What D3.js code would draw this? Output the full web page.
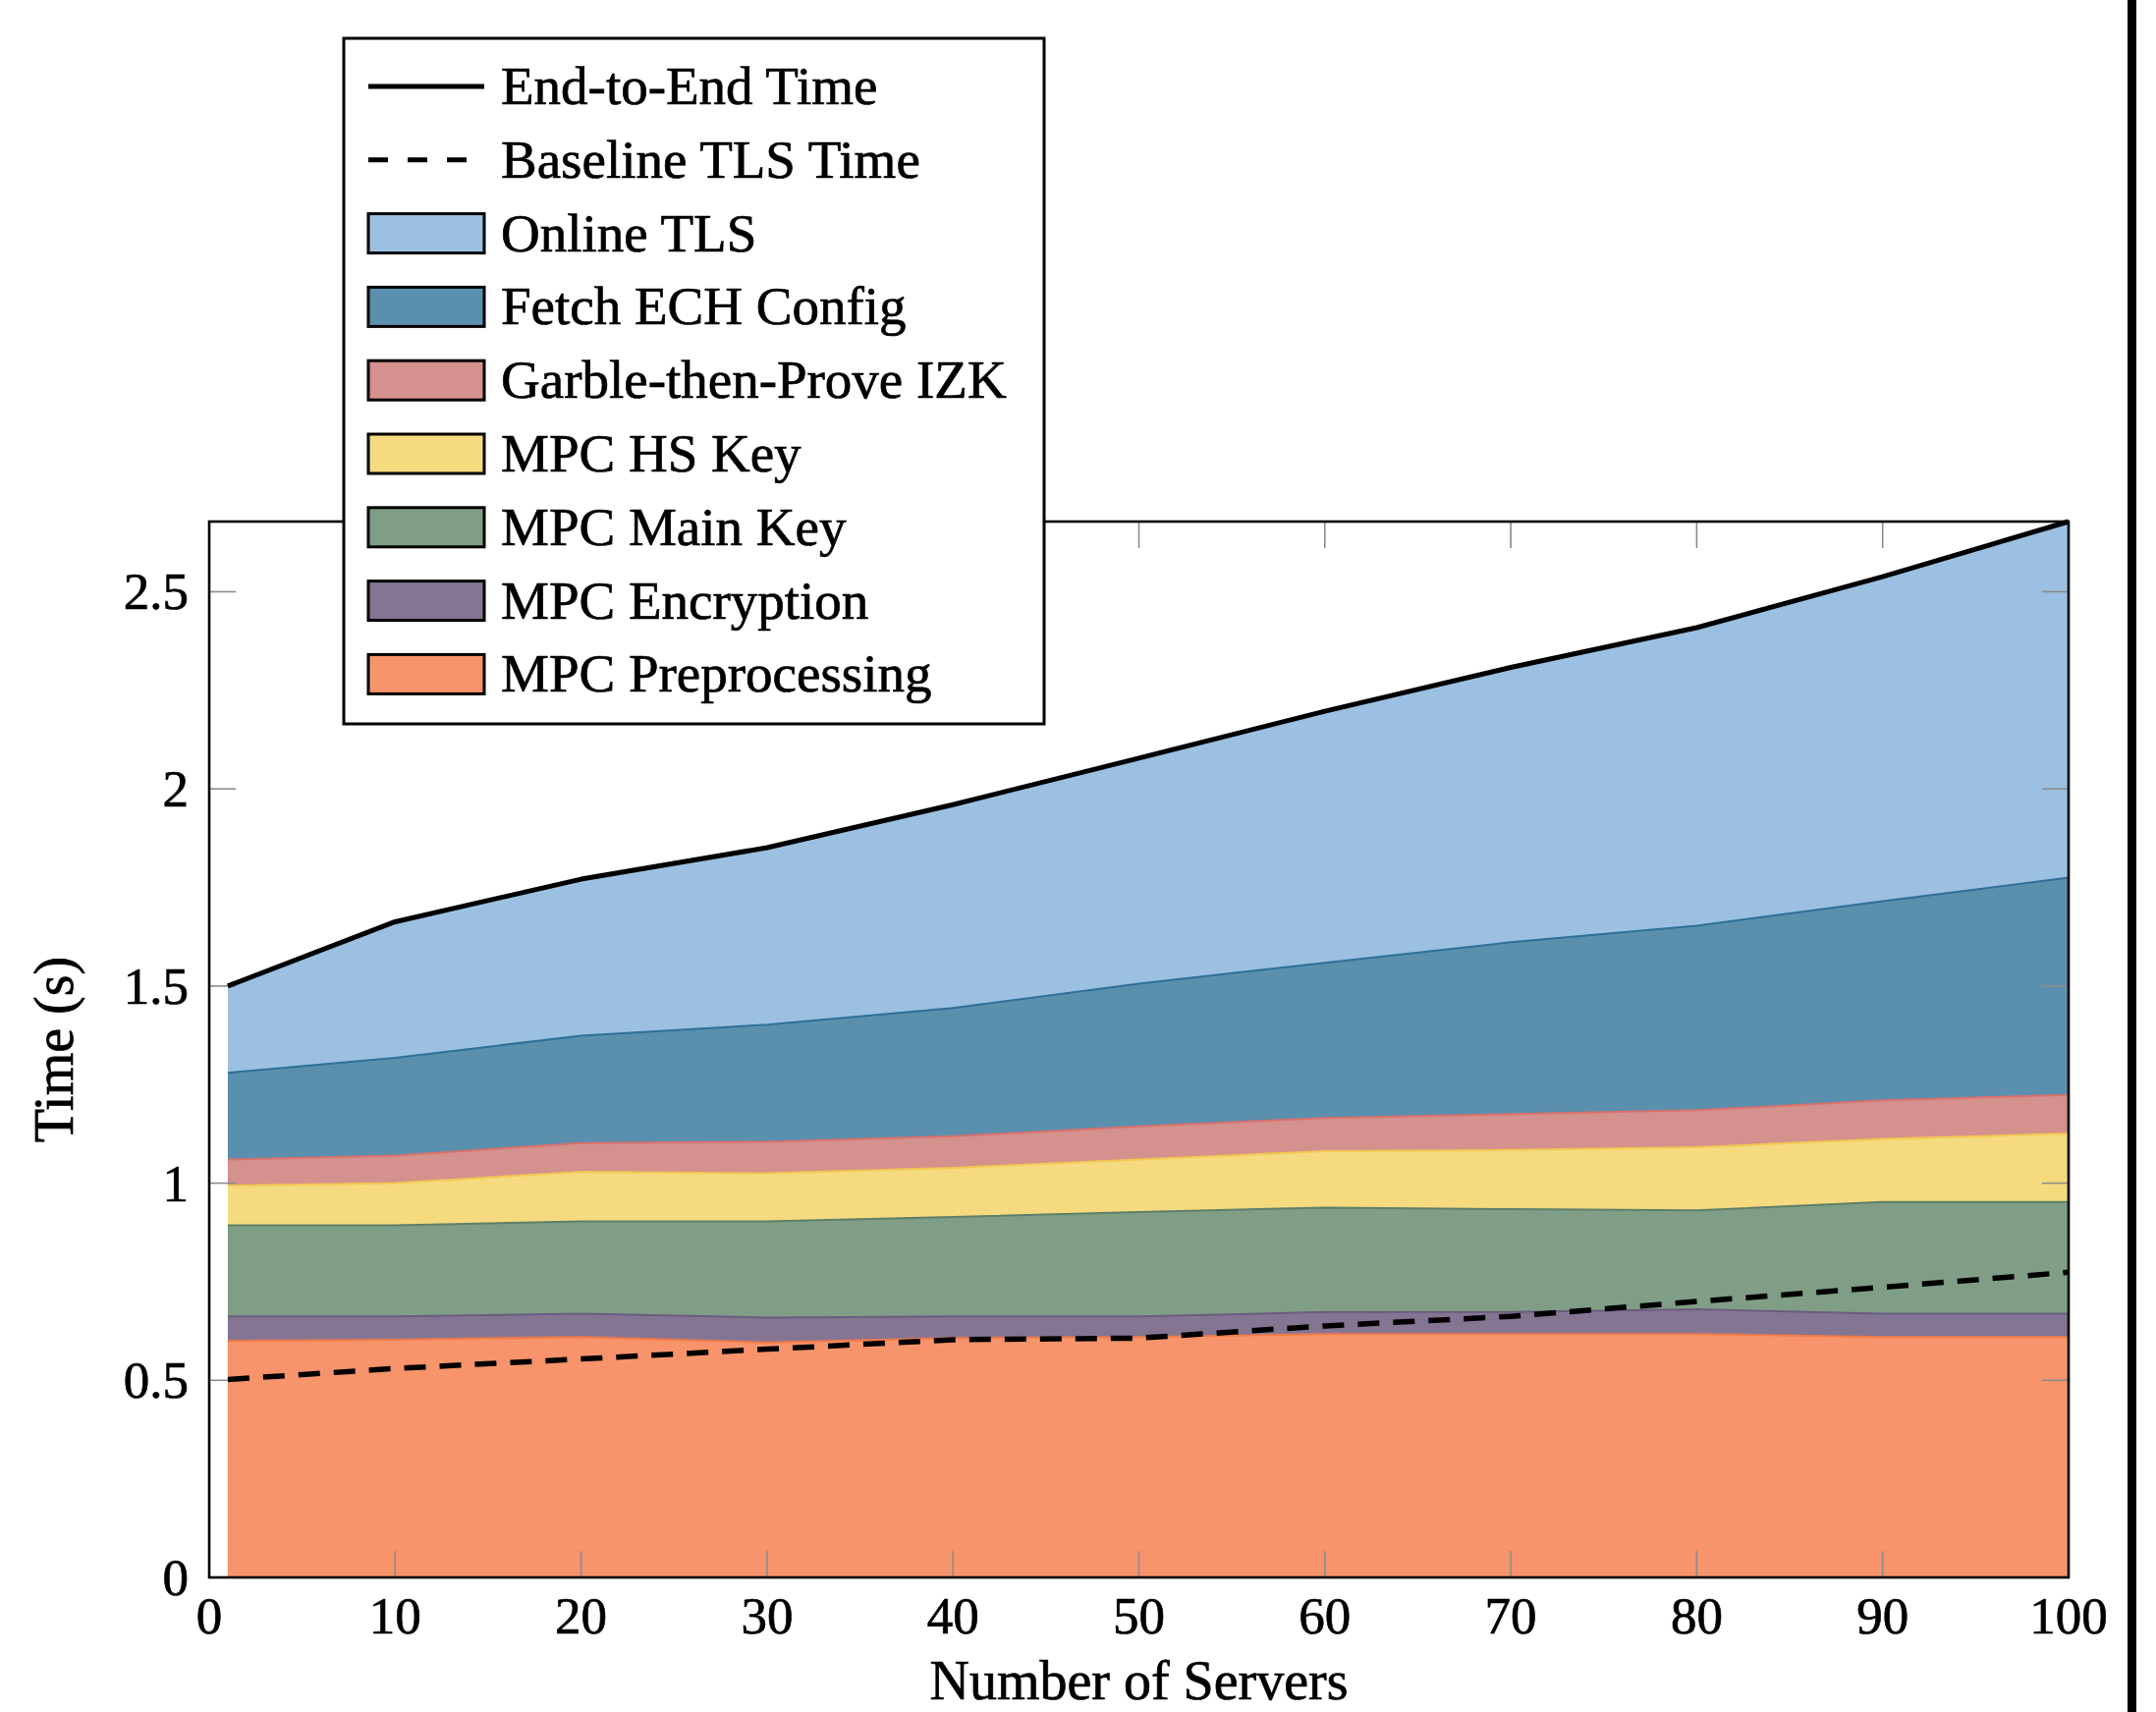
<!DOCTYPE html>
<html>

<head>
    <meta charset="utf-8">
    <title>Time vs Number of Servers</title>
    <script src="https://d3js.org/d3.v7.min.js"></script>
    <style>
        body {
            margin: 0;
            background: #fff;
        }

        text {
            font-family: "Liberation Serif", "DejaVu Serif", serif;
            fill: #000;
            stroke: #000;
            stroke-width: 0.7px;
        }
    </style>
</head>

<body>
    <div id="chart"></div>

    <script>
        // Data (seconds)
        const servers = [1, 10, 20, 30, 40, 50, 60, 70, 80, 90, 100];
        const mpcPreprocessing = [0.600, 0.603, 0.610, 0.596, 0.607, 0.610, 0.617, 0.617, 0.617, 0.610, 0.610];
        const mpcEncryption = [0.062, 0.059, 0.059, 0.063, 0.055, 0.052, 0.056, 0.056, 0.063, 0.059, 0.059];
        const mpcMainKey = [0.231, 0.231, 0.234, 0.244, 0.252, 0.265, 0.265, 0.261, 0.251, 0.283, 0.283];
        const mpcHsKey = [0.101, 0.107, 0.126, 0.122, 0.125, 0.133, 0.143, 0.150, 0.160, 0.160, 0.174];
        const garbleIzk = [0.066, 0.070, 0.073, 0.080, 0.080, 0.084, 0.084, 0.091, 0.094, 0.098, 0.098];
        const fetchEch = [0.220, 0.248, 0.272, 0.297, 0.325, 0.362, 0.394, 0.436, 0.468, 0.505, 0.551];
        const onlineTls = [0.220, 0.345, 0.397, 0.449, 0.516, 0.572, 0.638, 0.697, 0.756, 0.823, 0.903];
        const endToEnd = [1.500, 1.663, 1.771, 1.851, 1.960, 2.078, 2.197, 2.308, 2.409, 2.538, 2.678];
        const baselineTls = [0.502, 0.530, 0.554, 0.579, 0.603, 0.607, 0.638, 0.662, 0.700, 0.736, 0.774];

        const xTicks = [0, 10, 20, 30, 40, 50, 60, 70, 80, 90, 100];
        const yTicks = [0, 0.5, 1, 1.5, 2, 2.5];

        // stacking order, bottom to top
        const layers = [
            { key: "pre", name: "MPC Preprocessing", values: mpcPreprocessing, fill: "#f7946b", stroke: "#f47b48" },
            { key: "enc", name: "MPC Encryption", values: mpcEncryption, fill: "#847593", stroke: "#6b5c80" },
            { key: "main", name: "MPC Main Key", values: mpcMainKey, fill: "#809e86", stroke: "#5e7f69" },
            { key: "hs", name: "MPC HS Key", values: mpcHsKey, fill: "#f5da7f", stroke: "#f2c851" },
            { key: "gtp", name: "Garble-then-Prove IZK", values: garbleIzk, fill: "#d4918e", stroke: "#d8716d" },
            { key: "ech", name: "Fetch ECH Config", values: fetchEch, fill: "#5b8fae", stroke: "#2e6f98" },
            { key: "tls", name: "Online TLS", values: onlineTls, fill: "#9bc0e1", stroke: "#7aa8d0" }
        ];

        const W = 2195, H = 1743;
        const plot = { left: 213, right: 2106, top: 531, bottom: 1606 };

        const svg = d3.select("#chart")
            .append("svg")
            .attr("width", W)
            .attr("height", H);

        const x = d3.scaleLinear().domain([0, 100]).range([plot.left, plot.right]);
        const y = d3.scaleLinear().domain([0, 2.678]).range([plot.bottom, plot.top]);

        const rows = servers.map((s, i) => {
            const r = { s: s };
            layers.forEach(l => r[l.key] = l.values[i]);
            return r;
        });

        const stacked = d3.stack().keys(layers.map(l => l.key))(rows);

        const area = d3.area()
            .x(d => x(d.data.s))
            .y0(d => y(d[0]))
            .y1(d => y(d[1]));

        const topLine = d3.line()
            .x(d => x(d.data.s))
            .y(d => y(d[1]));

        // stacked areas
        stacked.forEach((st, i) => {
            svg.append("path")
                .datum(st)
                .attr("d", area)
                .attr("fill", layers[i].fill);
        });
        stacked.forEach((st, i) => {
            if (i === stacked.length - 1) return;
            svg.append("path")
                .datum(st)
                .attr("d", topLine)
                .attr("fill", "none")
                .attr("stroke", layers[i].stroke)
                .attr("stroke-width", 2);
        });

        // ticks inside the box, on all four sides
        const tickLen = 27;
        const ticks = svg.append("g").attr("stroke", "#8c8c8c").attr("stroke-width", 1.6);
        xTicks.forEach(t => {
            ticks.append("line").attr("x1", x(t)).attr("x2", x(t))
                .attr("y1", plot.bottom).attr("y2", plot.bottom - tickLen);
            ticks.append("line").attr("x1", x(t)).attr("x2", x(t))
                .attr("y1", plot.top).attr("y2", plot.top + tickLen);
        });
        yTicks.forEach(t => {
            ticks.append("line").attr("x1", plot.left).attr("x2", plot.left + tickLen)
                .attr("y1", y(t)).attr("y2", y(t));
            ticks.append("line").attr("x1", plot.right).attr("x2", plot.right - tickLen)
                .attr("y1", y(t)).attr("y2", y(t));
        });

        // lines
        const line = d3.line()
            .x((d, i) => x(servers[i]))
            .y(d => y(d));

        svg.append("path")
            .datum(baselineTls)
            .attr("d", line)
            .attr("fill", "none")
            .attr("stroke", "#000")
            .attr("stroke-width", 5.5)
            .attr("stroke-dasharray", "22 14");

        svg.append("path")
            .datum(endToEnd)
            .attr("d", line)
            .attr("fill", "none")
            .attr("stroke", "#000")
            .attr("stroke-width", 5)
            .attr("stroke-linejoin", "round");

        // frame
        svg.append("rect")
            .attr("x", plot.left).attr("y", plot.top)
            .attr("width", plot.right - plot.left)
            .attr("height", plot.bottom - plot.top)
            .attr("fill", "none")
            .attr("stroke", "#000")
            .attr("stroke-width", 2.6);

        // tick labels
        svg.append("g").selectAll("text")
            .data(xTicks)
            .join("text")
            .attr("x", d => x(d))
            .attr("y", 1663)
            .attr("text-anchor", "middle")
            .style("font-size", "53px")
            .text(d => d);

        svg.append("g").selectAll("text")
            .data(yTicks)
            .join("text")
            .attr("x", 192)
            .attr("y", d => y(d))
            .attr("dy", "0.34em")
            .attr("text-anchor", "end")
            .style("font-size", "53px")
            .text(d => d);

        // axis titles
        svg.append("text")
            .attr("x", (plot.left + plot.right) / 2)
            .attr("y", 1730)
            .attr("text-anchor", "middle")
            .style("font-size", "56px")
            .text("Number of Servers");

        svg.append("text")
            .attr("transform", `translate(74,${(plot.top + plot.bottom) / 2}) rotate(-90)`)
            .attr("text-anchor", "middle")
            .style("font-size", "56px")
            .text("Time (s)");

        // legend
        const legend = svg.append("g");
        legend.append("rect")
            .attr("x", 350).attr("y", 39)
            .attr("width", 713).attr("height", 698)
            .attr("fill", "#fff")
            .attr("stroke", "#000")
            .attr("stroke-width", 3);

        const legendItems = [
            { name: "End-to-End Time", type: "line" },
            { name: "Baseline TLS Time", type: "dash" }
        ].concat(layers.slice().reverse().map(l => ({ name: l.name, type: "box", fill: l.fill })));

        legendItems.forEach((it, i) => {
            const cy = 88 + i * 74.8;
            if (it.type === "box") {
                legend.append("rect")
                    .attr("x", 375).attr("y", cy - 20)
                    .attr("width", 118).attr("height", 40)
                    .attr("fill", it.fill)
                    .attr("stroke", "#000")
                    .attr("stroke-width", 3);
            } else {
                legend.append("line")
                    .attr("x1", 375).attr("x2", 493)
                    .attr("y1", cy).attr("y2", cy)
                    .attr("stroke", "#000")
                    .attr("stroke-width", 5)
                    .attr("stroke-dasharray", it.type === "dash" ? "20 20" : null);
            }
            legend.append("text")
                .attr("x", 510)
                .attr("y", cy + 18)
                .style("font-size", "55px")
                .text(it.name);
        });

        // black bar at right edge of the page
        svg.append("rect")
            .attr("x", 2166).attr("y", 0)
            .attr("width", 9).attr("height", H)
            .attr("fill", "#000");
    </script>
</body>

</html>
